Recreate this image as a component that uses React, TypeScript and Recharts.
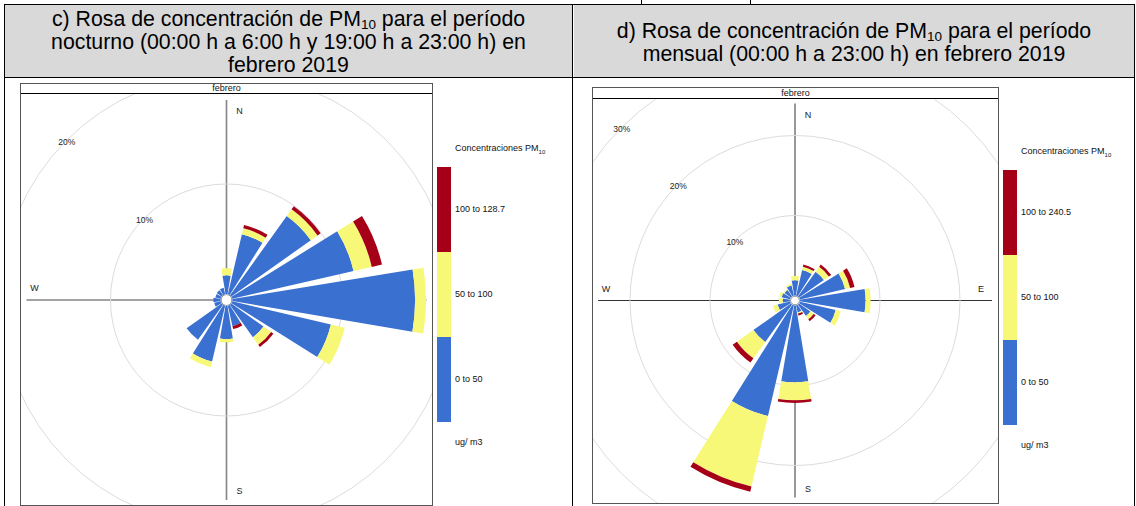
import React from 'react';
import {
  RadialBarChart,
  RadialBar,
  PolarGrid,
  PolarAngleAxis,
  PolarRadiusAxis,
} from 'recharts';

const directions = ['N', 'NNE', 'NE', 'ENE', 'E', 'ESE', 'SE', 'SSE', 'S', 'SSW', 'SW', 'WSW', 'W', 'WNW', 'NW', 'NNW'];

// periodo nocturno: % de horas por dirección y rango de PM10
const nightLow = [1.7, 5.6, 8.85, 11.3, 16.6, 9.2, 3.6, 1.9, 3.0, 5.2, 3.9, 0.6, 0.65, 0.5, 0.55, 0.6];
const nightMid = [0.65, 0.55, 0.75, 1.7, 1.0, 1.3, 0.85, 0, 0.3, 0.5, 0, 0, 0, 0, 0, 0];
const nightHigh = [0, 0.3, 0.35, 0.95, 0, 0, 0.25, 0.27, 0, 0, 0, 0, 0, 0, 0, 0];

// periodo mensual
const monthLow = [1.9, 3.3, 3.8, 5.8, 8.2, 4.6, 1.75, 0.9, 9.6, 14.2, 5.75, 1.6, 0.9, 1.1, 1.0, 1.3];
const monthMid = [0.55, 0.42, 0.76, 0.65, 0.63, 0.65, 0.5, 0.15, 2.25, 9.05, 2.53, 0.6, 0.5, 0.3, 0.1, 0.2];
const monthHigh = [0, 0.27, 0.35, 0.55, 0, 0, 0.3, 0.25, 0.33, 0.67, 0.65, 0, 0, 0, 0, 0];

const nightRings = [0, 10, 20];
const monthRings = [0, 10, 20, 30];

const nightBands = ['0 to 50', '50 to 100', '100 to 128.7'];
const monthBands = ['0 to 50', '50 to 100', '100 to 240.5'];

const BLUE = '#3a70d0';
const YELLOW = '#f8f878';
const RED = '#a60018';
const FONT = '"Liberation Sans", Arial, sans-serif';

const toRows = (low: number[], mid: number[], high: number[]) =>
  directions.map((dir, i) => ({ dir, low: low[i], mid: mid[i], high: high[i] }));

interface RoseProps {
  low: number[];
  mid: number[];
  high: number[];
  rings: number[];
  width: number;
  height: number;
  cx: number;
  cy: number;
  inner: number;
  outer: number;
  cross: number;
  crossColor: string;
  crossWidth: number;
  showEast: boolean;
}

function PctTick(props: any) {
  const { x, y, payload } = props;
  if (!payload || payload.value === 0) return <g />;
  return (
    <text x={x} y={y + 2} textAnchor="middle" dominantBaseline="central" fontSize={8.5} fontFamily={FONT} fill="#222">
      {payload.value}%
    </text>
  );
}

function WindRose(p: RoseProps) {
  const data = toRows(p.low, p.mid, p.high);
  const max = p.rings[p.rings.length - 1];
  const lbl = { fontSize: 9, fontFamily: FONT, fill: '#222', textAnchor: 'middle' as const, dominantBaseline: 'central' as const };
  return (
    <div style={{ position: 'relative', width: p.width, height: p.height }}>
      {/* ejes N-S / E-W debajo de los sectores */}
      <svg width={p.width} height={p.height} style={{ position: 'absolute', left: 0, top: 0 }}>
        <line x1={p.cx - p.cross} y1={p.cy} x2={p.cx + p.cross} y2={p.cy} stroke={p.crossColor} strokeWidth={p.crossWidth} />
        <line x1={p.cx} y1={p.cy - p.cross} x2={p.cx} y2={p.cy + p.cross} stroke={p.crossColor} strokeWidth={p.crossWidth} />
        <circle cx={p.cx} cy={p.cy} r={p.inner - 0.5} fill="#fff" stroke="#666" strokeWidth={1} />
        <text x={p.cx + 13} y={p.cy - p.cross + 11} {...lbl}>N</text>
        <text x={p.cx + 13} y={p.cy + p.cross - 9} {...lbl}>S</text>
        <text x={p.cx - p.cross + 8} y={p.cy - 12} {...lbl}>W</text>
        {p.showEast && <text x={p.cx + p.cross - 11} y={p.cy - 12} {...lbl}>E</text>}
      </svg>
      <div style={{ position: 'absolute', left: 0, top: 0 }}>
        <RadialBarChart
          width={p.width}
          height={p.height}
          data={data}
          layout="centric"
          cx={p.cx}
          cy={p.cy}
          innerRadius={p.inner}
          outerRadius={p.outer}
          startAngle={78.75}
          endAngle={-281.25}
          barCategoryGap="7%"
          margin={{ top: 0, right: 0, bottom: 0, left: 0 }}
        >
          <PolarGrid gridType="circle" radialLines={false} stroke="#dcdcdc" />
          <PolarAngleAxis type="category" dataKey="dir" tick={false} tickLine={false} axisLine={false} />
          <PolarRadiusAxis
            type="number"
            domain={[0, max]}
            ticks={p.rings}
            tickCount={p.rings.length}
            allowDataOverflow
            angle={135}
            axisLine={false}
            tickLine={false}
            tick={<PctTick />}
          />
          <RadialBar dataKey="low" stackId="pm" fill={BLUE} isAnimationActive={false} />
          <RadialBar dataKey="mid" stackId="pm" fill={YELLOW} isAnimationActive={false} />
          <RadialBar dataKey="high" stackId="pm" fill={RED} isAnimationActive={false} />
        </RadialBarChart>
      </div>
    </div>
  );
}

function Legend({ left, top, bands }: { left: number; top: number; bands: string[] }) {
  const txt: React.CSSProperties = { position: 'absolute', left: 18, fontSize: 9, fontFamily: FONT, color: '#111', whiteSpace: 'nowrap', lineHeight: '10px' };
  const colors = [RED, YELLOW, BLUE];
  const labels = [bands[2], bands[1], bands[0]];
  return (
    <div style={{ position: 'absolute', left, top, width: 130, height: 300 }}>
      <div style={{ ...txt, top: -5 }}>
        Concentraciones PM<sub style={{ fontSize: 6 }}>10</sub>
      </div>
      {colors.map((c, i) => (
        <React.Fragment key={c}>
          <div style={{ position: 'absolute', left: 0, top: 19 + i * 85, width: 14, height: 85, background: c }} />
          <div style={{ ...txt, top: 19 + i * 85 + 37 }}>{labels[i]}</div>
        </React.Fragment>
      ))}
      <div style={{ ...txt, top: 289 }}>ug/ m3</div>
    </div>
  );
}

function Panel({ left, top, width, height, strip }: { left: number; top: number; width: number; height: number; strip: number }) {
  return (
    <>
      <div style={{ position: 'absolute', left, top, width, height: strip, borderBottom: '1px solid #000', boxSizing: 'border-box', fontSize: 9, fontFamily: FONT, textAlign: 'center', lineHeight: `${strip}px`, color: '#111' }}>
        febrero
      </div>
      <div style={{ position: 'absolute', left, top, width, height, border: '1px solid #555', boxSizing: 'border-box', pointerEvents: 'none' }} />
    </>
  );
}

const hdr: React.CSSProperties = {
  position: 'absolute',
  top: 5,
  height: 72,
  paddingTop: 3,
  boxSizing: 'border-box',
  display: 'flex',
  alignItems: 'center',
  justifyContent: 'center',
  textAlign: 'center',
  fontFamily: FONT,
  fontSize: 21.3,
  lineHeight: '23px',
  color: '#000',
  background: '#d9d9d9',
};

const sub: React.CSSProperties = { fontSize: 13.5, verticalAlign: '-3px', lineHeight: 0 };

export default function App() {
  return (
    <div style={{ position: 'absolute', left: 0, top: 0, width: 1136, height: 506, background: '#fff', overflow: 'hidden' }}>
      {/* encabezados de la tabla */}
      <div style={{ ...hdr, left: 5, width: 567 }}>
        <div>
          c) Rosa de concentración de PM<span style={sub}>10</span> para el período
          <br />
          nocturno (00:00 h a 6:00 h y 19:00 h a 23:00 h) en
          <br />
          febrero 2019
        </div>
      </div>
      <div style={{ ...hdr, left: 574, width: 560 }}>
        <div>
          d) Rosa de concentración de PM<span style={sub}>10</span> para el período
          <br />
          mensual (00:00 h a 23:00 h) en febrero 2019
        </div>
      </div>

      {/* bordes */}
      <div style={{ position: 'absolute', left: 4, top: 4, width: 1131, height: 1, background: '#000' }} />
      <div style={{ position: 'absolute', left: 641, top: 0, width: 1, height: 5, background: '#000' }} />
      <div style={{ position: 'absolute', left: 750, top: 0, width: 1, height: 5, background: '#000' }} />
      <div style={{ position: 'absolute', left: 4, top: 77, width: 1131, height: 1, background: '#000' }} />
      <div style={{ position: 'absolute', left: 4, top: 4, width: 1, height: 502, background: '#000' }} />
      <div style={{ position: 'absolute', left: 572, top: 4, width: 1.3, height: 502, background: '#000' }} />
      <div style={{ position: 'absolute', left: 1134, top: 4, width: 1, height: 502, background: '#000' }} />

      {/* rosa nocturna */}
      <div style={{ position: 'absolute', left: 20, top: 93 }}>
        <WindRose
          low={nightLow}
          mid={nightMid}
          high={nightHigh}
          rings={nightRings}
          width={413}
          height={412}
          cx={206.5}
          cy={207}
          inner={6}
          outer={226}
          cross={200}
          crossColor="#858585"
          crossWidth={1.6}
          showEast={false}
        />
      </div>
      <Panel left={20} top={83} width={413} height={423} strip={11} />
      <Legend left={437} top={148} bands={nightBands} />

      {/* rosa mensual */}
      <div style={{ position: 'absolute', left: 592, top: 98 }}>
        <WindRose
          low={monthLow}
          mid={monthMid}
          high={monthHigh}
          rings={monthRings}
          width={406}
          height={405}
          cx={203}
          cy={202.5}
          inner={5}
          outer={245}
          cross={197}
          crossColor="#333"
          crossWidth={1}
          showEast
        />
      </div>
      <Panel left={592} top={87} width={407} height={417} strip={12} />
      <Legend left={1003} top={151} bands={monthBands} />
    </div>
  );
}
